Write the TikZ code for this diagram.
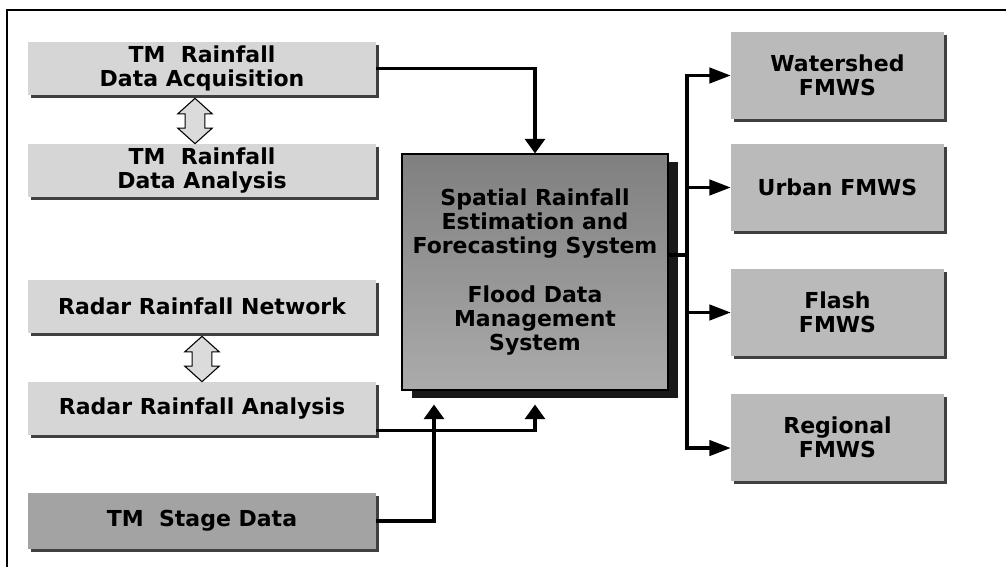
\documentclass[tikz,border=0pt]{standalone}
\usepackage{fontspec}
\newfontfamily\lblfont{DejaVu Sans}
\usetikzlibrary{arrows.meta,shadows,shapes.arrows,calc}
\tikzset{
  rtip/.tip={Triangle[length=16pt,width=11.5pt]},
  utip/.tip={Triangle[length=11pt,width=15pt]}
}
\begin{document}
\begin{tikzpicture}[x=0.75pt,y=-0.75pt,
  lbl/.style={font=\lblfont\bfseries\fontsize{16.5pt}{18pt}\selectfont, align=center, inner sep=0pt},
  boxshadow/.style={drop shadow={shadow xshift=2.25pt, shadow yshift=-2.25pt, fill=black!75, opacity=1}},
  leftbox/.style={lbl, fill=black!16, minimum width=261pt, minimum height=39.75pt, boxshadow},
  stagebox/.style={leftbox, fill=black!36, minimum height=42pt},
  rightbox/.style={lbl, fill=black!27, minimum width=159.75pt, minimum height=65.25pt, boxshadow},
  centralbox/.style={lbl, draw=black, line width=0.8pt, top color=black!50, bottom color=black!33,
     minimum width=199.5pt, minimum height=177pt,
     drop shadow={shadow xshift=7.5pt, shadow yshift=-6pt, fill=black!90, opacity=1}},
  darr/.style={double arrow, rotate=90, draw=black, line width=0.8pt, fill=black!14,
     minimum height=34pt, inner sep=7pt, double arrow head extend=5.5pt, double arrow tip angle=96},
  conn/.style={line width=2.5pt}
]
\useasboundingbox (0,0) rectangle (1006,567);
\draw[line width=1.2pt] (7,567) -- (7,10) -- (1006,10);

% left column
\node[leftbox] (b1) at (202,68.5) {TM\ \ Rainfall\\Data Acquisition};
\node[leftbox] (b2) at (202,170.5) {TM\ \ Rainfall\\Data Analysis};
\node[leftbox] (b3) at (202,306.5) {Radar Rainfall Network};
\node[leftbox] (b4) at (202,408.5) {Radar Rainfall Analysis};
\node[stagebox] (b5) at (202,521) {TM\ \ Stage Data};

\node[darr] (d1) at ($(b1.south)!0.5!(b2.north)+(-7,1.5)$) {};
\node[darr] (d2) at ($(b3.south)!0.5!(b4.north)+(0,1.5)$) {};

% central
\node[centralbox] (c) at (535,272) {Spatial Rainfall\\Estimation and\\Forecasting System\\[19pt]Flood Data\\Management\\System};

% right column
\node[rightbox] (ws) at (837.5,75.5) {Watershed\\FMWS};
\node[rightbox] (ur) at (837.5,187.5) {Urban FMWS};
\node[rightbox] (fl) at (837.5,312.5) {Flash\\FMWS};
\node[rightbox] (rg) at (837.5,437.5) {Regional\\FMWS};

% connectors into central
\coordinate (cin2) at ($(c.south)+(0,14)$);
\coordinate (cin1) at ($(cin2)+(-101,0)$);
\draw[conn,-utip] (b1.east) -| (c.north);
\draw[conn,-utip] ([yshift=-16.5pt]b4.east) -| (cin2);
\draw[conn,-utip] (b5.east) -| (cin1);

% bus to outputs
\coordinate (bj) at (687,255);
\coordinate (rgin) at ([yshift=-7.9pt]rg.west);
\draw[conn] (c.east |- bj) -- (bj);
\draw[conn,rtip-rtip] (ws.west) -- (bj |- ws.west) -- (bj |- rgin) -- (rgin);
\draw[conn,-rtip] (bj |- ur.west) -- (ur.west);
\draw[conn,-rtip] (bj |- fl.west) -- (fl.west);
\end{tikzpicture}
\end{document}
